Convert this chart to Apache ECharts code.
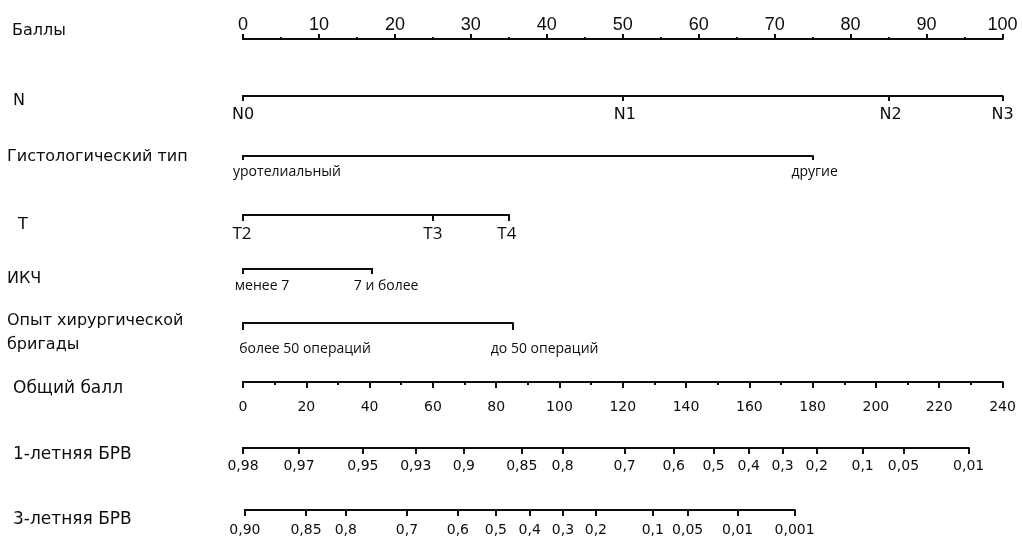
<!DOCTYPE html>
<html>
<head>
<meta charset="utf-8">
<script src="https://cdn.jsdelivr.net/npm/echarts@6/dist/echarts.min.js"></script>
<style>
  html, body { margin: 0; padding: 0; background: #fff; }
  #chart { width: 1022px; height: 538px; }
</style>
</head>
<body>
<div id="chart"></div>
<script>
// ---- Nomogram data -------------------------------------------------------
const POINTS_MAX = 100;          // "Баллы" scale
const TOTAL_MAX = 240;           // "Общий балл" scale

const N_LABELS = ['N0', 'N1', 'N2', 'N3'];
const N_POINTS = [0, 50, 85, 100];

const HIST_LABELS = ['уротелиальный', 'другие'];
const HIST_POINTS = [0, 75];

const T_LABELS = ['T2', 'T3', 'T4'];
const T_POINTS = [0, 25, 35];

const IKCH_LABELS = ['менее 7', '7 и более'];
const IKCH_POINTS = [0, 17];

const TEAM_LABELS = ['более 50 операций', 'до 50 операций'];
const TEAM_POINTS = [0, 35.5];

// survival probabilities and the total score at which each one sits
const SURV1_LABELS = ['0,98', '0,97', '0,95', '0,93', '0,9', '0,85', '0,8', '0,7', '0,6', '0,5', '0,4', '0,3', '0,2', '0,1', '0,05', '0,01'];
const SURV1_TOTAL = [0, 17.7, 37.9, 54.6, 69.8, 88.1, 101, 120.6, 136.1, 148.7, 159.8, 170.5, 181.3, 195.8, 208.7, 229.3];

const SURV3_LABELS = ['0,90', '0,85', '0,8', '0,7', '0,6', '0,5', '0,4', '0,3', '0,2', '0,1', '0,05', '0,01', '0,001'];
const SURV3_TOTAL = [0.6, 19.9, 32.5, 51.8, 67.9, 79.9, 90.6, 101.1, 111.5, 129.5, 140.5, 156.3, 174.3];

// ---- Layout / style ------------------------------------------------------
const INK = '#0d0d0d';
const AXIS_LEFT = 243;
const AXIS_W = 759.5;
const SANS = '"DejaVu Sans"';
const OPEN = '"Open Sans"';
const ARIAL = '"Liberation Sans"';

// one row per nomogram line
const rows = [
  { title: 'Баллы', tx: 12, ty: 31, tsize: 16, lineY: 38, full: POINTS_MAX, kind: 'scale',
    min: 0, max: POINTS_MAX, interval: 10, up: true, tick: 5, minor: 2,
    font: ARIAL, size: 18, margin: 4 },
  { title: 'N', tx: 13, ty: 101, tsize: 16, lineY: 96, full: POINTS_MAX, kind: 'levels',
    labels: N_LABELS, values: N_POINTS, tick: 5, font: SANS, size: 16, margin: 11,
    shift: [0, 2, 2, 0] },
  { title: 'Гистологический тип', tx: 7, ty: 157, tsize: 16, lineY: 156, full: POINTS_MAX, kind: 'levels',
    labels: HIST_LABELS, values: HIST_POINTS, tick: 4, font: OPEN, size: 14, margin: 9,
    shift: [44, 2] },
  { title: ' T', tx: 13, ty: 225, tsize: 16, lineY: 215, full: POINTS_MAX, kind: 'levels',
    labels: T_LABELS, values: T_POINTS, tick: 6, font: OPEN, size: 17, margin: 11,
    shift: [-1, 0, -2] },
  { title: 'ИКЧ', tx: 7, ty: 279, tsize: 16, lineY: 269, full: POINTS_MAX, kind: 'levels',
    labels: IKCH_LABELS, values: IKCH_POINTS, tick: 5, font: OPEN, size: 14, margin: 10,
    shift: [19, 14] },
  { title: 'Опыт хирургической\nбригады', tx: 7, ty: 333, tsize: 16, lineY: 323, full: POINTS_MAX, kind: 'levels',
    labels: TEAM_LABELS, values: TEAM_POINTS, tick: 7, font: OPEN, size: 14, margin: 19,
    shift: [62, 32] },
  { title: 'Общий балл', tx: 13, ty: 389, tsize: 17, lineY: 382, full: TOTAL_MAX, kind: 'scale',
    min: 0, max: TOTAL_MAX, interval: 20, up: false, tick: 6, minor: 3,
    font: SANS, size: 14, margin: 18 },
  { title: '1-летняя БРВ', tx: 13, ty: 455, tsize: 17, lineY: 448, full: TOTAL_MAX, kind: 'levels',
    labels: SURV1_LABELS, values: SURV1_TOTAL, tick: 6, font: SANS, size: 14, margin: 11 },
  { title: '3-летняя БРВ', tx: 13, ty: 520, tsize: 17, lineY: 510, full: TOTAL_MAX, kind: 'levels',
    labels: SURV3_LABELS, values: SURV3_TOTAL, tick: 6, font: SANS, size: 14, margin: 13 }
];

const grids = [], xAxes = [], yAxes = [], graphics = [];

rows.forEach((r, i) => {
  const lo = r.kind === 'scale' ? r.min : r.values[0];
  const hi = r.kind === 'scale' ? r.max : r.values[r.values.length - 1];

  grids.push({
    left: AXIS_LEFT + AXIS_W * lo / r.full,
    width: AXIS_W * (hi - lo) / r.full,
    top: r.up ? r.lineY : r.lineY - 1,
    height: 1,
    containLabel: false,
    outerBoundsMode: 'none'
  });

  const axis = {
    gridIndex: i,
    type: 'value',
    min: lo,
    max: hi,
    position: r.up ? 'top' : 'bottom',
    splitLine: { show: false },
    axisLine: { show: true, lineStyle: { color: INK, width: 2, cap: 'square' } },
    axisTick: { show: true, length: r.tick, lineStyle: { color: INK, width: 2 } },
    axisLabel: {
      show: true, color: INK, fontFamily: r.font, fontSize: r.size, margin: r.margin,
      showMinLabel: true, showMaxLabel: true, hideOverlap: false
    }
  };

  if (r.kind === 'scale') {
    axis.interval = r.interval;
    axis.minorTick = { show: true, splitNumber: 2, length: r.minor, lineStyle: { color: INK, width: 2 } };
  } else {
    const vals = r.values;
    const labels = r.labels;
    const shift = r.shift || vals.map(() => 0);
    axis.axisTick.customValues = vals;
    axis.axisLabel.customValues = vals;
    const rich = {};
    shift.forEach((s, k) => {
      rich['s' + k] = {
        fontFamily: r.font, fontSize: r.size, color: INK,
        padding: s >= 0 ? [0, 0, 0, 2 * s] : [0, -2 * s, 0, 0]
      };
    });
    axis.axisLabel.rich = rich;
    axis.axisLabel.formatter = (v) => {
      const k = vals.findIndex((x) => Math.abs(x - v) < 1e-6);
      return k < 0 ? '' : '{s' + k + '|' + labels[k] + '}';
    };
  }
  xAxes.push(axis);
  yAxes.push({ gridIndex: i, type: 'value', show: false, min: 0, max: 1 });

  graphics.push({
    type: 'text',
    x: r.tx,
    y: r.ty,
    style: {
      text: r.title,
      fill: INK,
      font: r.tsize + 'px ' + SANS,
      verticalAlign: 'middle',
      lineHeight: 24
    }
  });
});

const chart = echarts.init(document.getElementById('chart'), null, { renderer: 'canvas' });
chart.setOption({
  animation: false,
  backgroundColor: '#fff',
  grid: grids,
  xAxis: xAxes,
  yAxis: yAxes,
  graphic: graphics,
  series: []
});
</script>
</body>
</html>
